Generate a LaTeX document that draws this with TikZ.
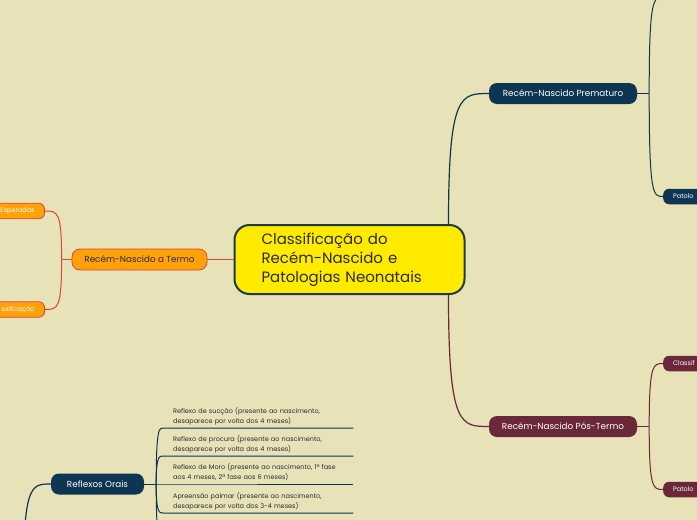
\documentclass[tikz,border=0pt]{standalone}
\usepackage{fontspec}
\setmainfont{Poppins}
\usepackage{xcolor}
\definecolor{paper}{HTML}{E8E2B9}
\definecolor{sun}{HTML}{FFEB00}
\definecolor{ink}{HTML}{2B2B2B}
\definecolor{rootline}{HTML}{1E3A48}
\definecolor{deepnavy}{HTML}{0E3551}
\definecolor{wine}{HTML}{6A2838}
\definecolor{amber}{HTML}{FFA10A}
\definecolor{brick}{HTML}{DC4434}
\usetikzlibrary{calc,positioning}

\begin{document}
\begin{tikzpicture}[x=1pt, y=-1pt,
		topic/.style={rounded corners=8pt, minimum height=21pt, inner sep=0pt, text=white, font=\fontsize{8.8}{10}\selectfont},
		subtopic/.style={rounded corners=6pt, minimum height=15.5pt, inner xsep=10pt, inner ysep=0pt, text width=60pt, text=white, font=\fontsize{6.5}{8}\selectfont},
		reflex/.style={anchor=south west, text width=170pt, inner xsep=10pt, inner ysep=3pt, align=left, text=ink, font=\fontsize{6.5}{10}\selectfont},
		link/.style={line width=1pt}]
	% Canvas
	\path[use as bounding box, fill=paper] (0,0) rectangle (697,520);
	\clip (0,0) rectangle (697,520);

	% Central topic
	\node[draw=rootline, line width=2pt, fill=sun, rounded corners=15pt, minimum height=69pt,
		text width=176pt, inner xsep=27pt, align=left, text=ink, font=\fontsize{15}{19}\selectfont] (root) at (349.5,259.5)
		{Classificação do\\Recém-Nascido e\\Patologias Neonatais};

	% Main topics
	\node[topic, fill=amber, draw=brick, text=ink, line width=0.8pt, minimum width=135pt] (termo) at (139.5,259.5) {Recém-Nascido a Termo};
	\node[topic, fill=deepnavy, minimum width=148pt] (prem) at (563,93.5) {Recém-Nascido Prematuro};
	\node[topic, fill=wine, minimum width=148pt] (pos) at (563,426.5) {Recém-Nascido Pós-Termo};
	\node[topic, fill=deepnavy, minimum width=93pt] (oral) at (97.5,484) {Reflexos Orais};

	% Sub-topics, cut by the edges as in the picture
	\node[subtopic, fill=amber, draw=brick, line width=0.8pt, anchor=east, align=right] (esper) at (45,211) {Esperadas};
	\node[subtopic, fill=amber, draw=brick, line width=0.8pt, anchor=east, align=right] (classt) at (45,309.5) {ssificação};
	\node[subtopic, fill=deepnavy, anchor=west, align=left] (patpre) at (663,196.5) {Patolo};
	\node[subtopic, fill=wine, anchor=west, align=left] (classpos) at (663,363.5) {Classif};
	\node[subtopic, fill=wine, anchor=west, align=left] (patpos) at (663,489.5) {Patolo};

	% Junctions and off-canvas ends
	\coordinate (rootup) at ([xshift=-17pt]root.north east);
	\coordinate (rootdown) at ([xshift=-17pt]root.south east);
	\coordinate (jtermo) at ($(termo.west)+(-10,0)$);
	\coordinate (jprem) at ($(prem.east)+(12,0)$);
	\coordinate (jpos) at ($(pos.east)+(12,0)$);
	\coordinate (joral) at ($(oral.east)+(12,0)$);
	\coordinate (premtop) at (664,-3);
	\coordinate (oralup) at (23,600);
	\coordinate (oraldown) at (163,541);

	% Main branches
	\draw[brick, link] (root.west) -- (termo.east);
	\draw[deepnavy, line width=1.2pt] (rootup) .. controls (rootup |- prem.west) and ($(rootup |- prem.west)+(12,0)$) .. (prem.west);
	\draw[wine, line width=1.2pt] (rootdown) .. controls (rootdown |- pos.west) and ($(rootdown |- pos.west)+(12,0)$) .. (pos.west);
	\draw[deepnavy, line width=1.2pt] (oralup) .. controls (oralup |- oral.west) and ($(oralup |- oral.west)+(7,0)$) .. (oral.west);

	% Twigs
	\draw[brick, link] (termo.west) -- (jtermo);
	\foreach \t in {esper, classt}
		\draw[brick, link] (jtermo) .. controls (jtermo |- \t.east) and ($(jtermo |- \t.east)+(-4,0)$) .. (\t.east);
	\draw[deepnavy, link] (prem.east) -- (jprem);
	\foreach \t in {premtop, patpre.west}
		\draw[deepnavy, link] (jprem) .. controls (jprem |- \t) and ($(jprem |- \t)+(4,0)$) .. (\t);
	\draw[wine, link] (pos.east) -- (jpos);
	\foreach \t in {classpos, patpos}
		\draw[wine, link] (jpos) .. controls (jpos |- \t.west) and ($(jpos |- \t.west)+(4,0)$) .. (\t.west);

	% Oral reflexes, one underlined leaf each
	\draw[deepnavy, link] (oral.east) -- (joral);
	\foreach \i/\y/\txt in {
			1/428/{Reflexo de sucção (presente ao nascimento,\\desaparece por volta dos 4 meses)},
			2/456/{Reflexo de procura (presente ao nascimento,\\desaparece por volta dos 4 meses)},
			3/484/{Reflexo de Moro (presente ao nascimento, 1ª fase\\aos 4 meses, 2ª fase aos 6 meses)},
			4/513/{Apreensão palmar (presente ao nascimento,\\desaparece por volta dos 3-4 meses)}}{
		\node[reflex] (leaf\i) at (163,\y) {\txt};
		\draw[deepnavy, link] (joral) .. controls (joral |- leaf\i.south west) and ($(joral |- leaf\i.south west)+(3,0)$) .. (leaf\i.south west) -- (leaf\i.south east);
	}
	\draw[deepnavy, link] (joral) .. controls (joral |- oraldown) and ($(joral |- oraldown)+(3,0)$) .. (oraldown) -- +(190,0);
\end{tikzpicture}
\end{document}
